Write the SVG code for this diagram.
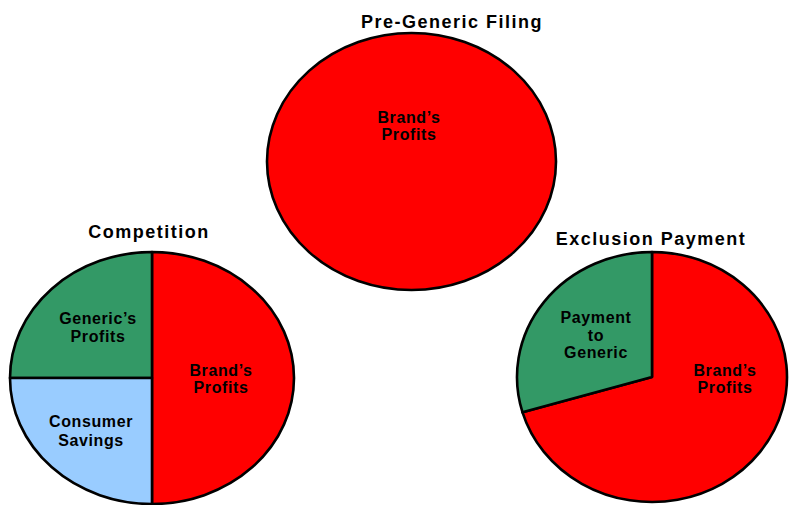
<svg xmlns="http://www.w3.org/2000/svg" width="789" height="505" viewBox="0 0 789 505">
<style>
.title{font-family:"Liberation Sans",Arial,sans-serif;font-weight:bold;font-size:18px;letter-spacing:1.5px;fill:#000;text-anchor:middle}
.lbl{font-family:"Liberation Sans",Arial,sans-serif;font-weight:bold;font-size:16px;letter-spacing:0.6px;fill:#000;text-anchor:middle}
.slice{stroke:#000;stroke-width:2.6;stroke-linejoin:round}
.red{fill:#FF0000}
.green{fill:#339966}
.blue{fill:#99CCFF}
</style>
<rect width="789" height="505" fill="#fff"/>
<g id="pre-generic">
<text class="title" x="452" y="28">Pre-Generic Filing</text>
<ellipse class="slice red" cx="411.5" cy="161.5" rx="144.5" ry="128.5"/>
<text class="lbl" x="409" y="123">Brand’s</text>
<text class="lbl" x="409" y="140">Profits</text>
</g>
<g id="competition">
<text class="title" x="149" y="238">Competition</text>
<path class="slice red" d="M152,378 L152,252 A142,126 0 0 1 152,504 Z"/>
<path class="slice green" d="M152,378 L152,252 A142,126 0 0 0 10,378 Z"/>
<path class="slice blue" d="M152,378 L10,378 A142,126 0 0 0 152,504 Z"/>
<text class="lbl" x="98" y="324">Generic’s</text>
<text class="lbl" x="98" y="342">Profits</text>
<text class="lbl" x="221" y="376">Brand’s</text>
<text class="lbl" x="221" y="393">Profits</text>
<text class="lbl" x="91" y="427">Consumer</text>
<text class="lbl" x="91" y="446">Savings</text>
</g>
<g id="exclusion">
<text class="title" x="651" y="245">Exclusion Payment</text>
<path class="slice red" d="M652,377 L522.5,412.3 A135,125 0 1 0 652,252 Z"/>
<path class="slice green" d="M652,377 L652,252 A135,125 0 0 0 522.5,412.3 Z"/>
<text class="lbl" x="596" y="323">Payment</text>
<text class="lbl" x="596" y="341">to</text>
<text class="lbl" x="596" y="358">Generic</text>
<text class="lbl" x="725" y="376">Brand’s</text>
<text class="lbl" x="725" y="393">Profits</text>
</g>
</svg>
